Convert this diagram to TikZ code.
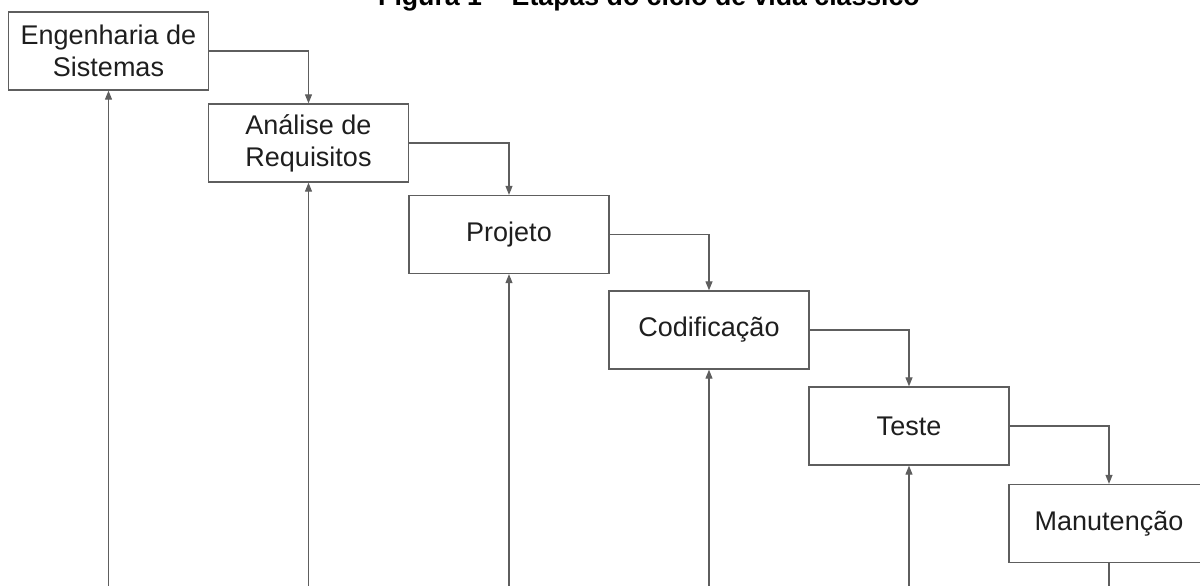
\documentclass[tikz,border=0pt]{standalone}
\usepackage{fontspec}
\setmainfont{Liberation Sans}
\usetikzlibrary{arrows.meta}
\definecolor{linegray}{HTML}{5E5E5E}
\definecolor{textdark}{HTML}{1E1E1E}
\tikzset{
  stagebox/.style={draw=linegray, line width=1.3pt, minimum width=200pt, minimum height=78pt,
    inner sep=0pt, align=center, text=textdark, font=\fontsize{27}{32}\selectfont},
  flow/.style={draw=linegray, line width=1.1pt, -{Triangle[length=9pt,width=7pt]}},
  back/.style={draw=linegray, line width=1.1pt, -{Triangle[length=9pt,width=7pt]}}
}
\begin{document}
\begin{tikzpicture}[x=1pt,y=-1pt]
\useasboundingbox (0,0) rectangle (1200,586);
\node[font=\bfseries\fontsize{26.7}{30}\selectfont, anchor=base, text=black] (title) at (649,6) {Figura 1 – Etapas do ciclo de vida clássico};
\node[stagebox] (b1) at (108.5,51) {Engenharia de\\Sistemas};
\node[stagebox] (b2) at (308.5,143) {Análise de\\Requisitos};
\node[stagebox] (b3) at (509,234.5) {Projeto};
\node[stagebox] (b4) at (709,330) {Codificação};
\node[stagebox] (b5) at (909,426) {Teste};
\node[stagebox] (b6) at (1109,523.5) {Manutenção};
\draw[flow] (b1.east) -| (b2.north);
\draw[flow] (b2.east) -| (b3.north);
\draw[flow] (b3.east) -| (b4.north);
\draw[flow] (b4.east) -| (b5.north);
\draw[flow] (b5.east) -| (b6.north);
\coordinate (r6) at (1109,620);
\coordinate (r1) at (108.5,620);
\coordinate (r2) at (308.5,620);
\coordinate (r3) at (509,620);
\coordinate (r4) at (709,620);
\coordinate (r5) at (909,620);
\draw[draw=linegray, line width=1.1pt] (b6.south) -- (r6) -- (r1);
\draw[back] (r1) -- (b1.south);
\draw[back] (r2) -- (b2.south);
\draw[back] (r3) -- (b3.south);
\draw[back] (r4) -- (b4.south);
\draw[back] (r5) -- (b5.south);
\end{tikzpicture}
\end{document}
